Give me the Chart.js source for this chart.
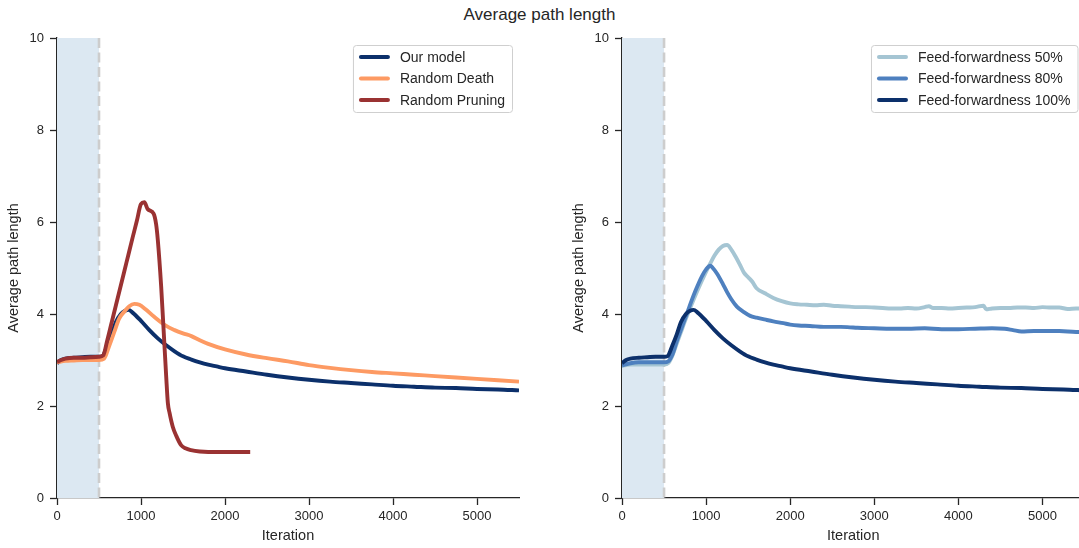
<!DOCTYPE html>
<html>
<head>
<meta charset="utf-8">
<script src="https://cdn.jsdelivr.net/npm/chart.js@4/dist/chart.umd.min.js"></script>
<style>
  html, body { margin: 0; padding: 0; background: #ffffff; overflow: hidden; width: 1079px; height: 548px; }
  #suptitle { position: absolute; left: 0; top: 4px; width: 1079px; text-align: center;
    font-family: "Liberation Sans", Arial, sans-serif; font-size: 17px; line-height: 22px; color: #262626; }
  #left { position: absolute; left: 0; top: 0; }
  #right { position: absolute; left: 540px; top: 0; }
</style>
</head>
<body>
<div id="suptitle">Average path length</div>
<canvas id="left" width="540" height="548"></canvas>
<canvas id="right" width="546" height="548"></canvas>
<script>
// ---- data: iteration vs. average path length ----
const xTicks = [0, 1000, 2000, 3000, 4000, 5000];
const yTicks = [0, 2, 4, 6, 8, 10];
const warmupEnd = 500;

// Our model (also the 100% feed-forwardness run)
const ourIter = [0, 50, 100, 200, 300, 400, 500, 540, 600, 650, 700, 760, 810, 850, 900, 1000, 1100, 1200, 1300, 1400, 1500, 1600, 1700, 1800, 1900, 2000, 2250, 2500, 2750, 3000, 3250, 3500, 3750, 4000, 4250, 4500, 4750, 5000, 5250, 5500];
const ourLen  = [2.93, 3.0, 3.03, 3.05, 3.06, 3.07, 3.07, 3.08, 3.32, 3.55, 3.82, 4.0, 4.07, 4.09, 4.03, 3.85, 3.65, 3.47, 3.32, 3.19, 3.08, 3.01, 2.95, 2.9, 2.86, 2.82, 2.75, 2.68, 2.62, 2.57, 2.53, 2.5, 2.47, 2.44, 2.42, 2.4, 2.39, 2.37, 2.36, 2.34];

// Random Death
const deathIter = [0, 100, 200, 300, 400, 500, 560, 620, 680, 740, 800, 860, 920, 980, 1050, 1150, 1300, 1400, 1500, 1600, 1700, 1800, 2000, 2250, 2500, 2750, 3000, 3250, 3500, 3750, 4000, 4250, 4500, 4750, 5000, 5250, 5500];
const deathLen  = [2.95, 2.98, 2.99, 3.0, 3.0, 3.0, 3.03, 3.3, 3.6, 3.9, 4.05, 4.17, 4.22, 4.2, 4.11, 3.95, 3.74, 3.65, 3.58, 3.52, 3.43, 3.35, 3.23, 3.12, 3.04, 2.97, 2.89, 2.83, 2.78, 2.74, 2.71, 2.68, 2.65, 2.62, 2.59, 2.56, 2.53];

// Random Pruning
const pruneIter = [0, 50, 100, 200, 300, 400, 500, 550, 600, 650, 700, 750, 800, 850, 900, 950, 1000, 1040, 1080, 1150, 1180, 1200, 1240, 1280, 1300, 1320, 1340, 1378, 1420, 1477, 1530, 1596, 1700, 1800, 2000, 2300];
const pruneLen  = [2.96, 3.0, 3.03, 3.05, 3.05, 3.06, 3.07, 3.1, 3.44, 3.81, 4.18, 4.55, 4.92, 5.29, 5.66, 6.02, 6.39, 6.43, 6.28, 6.18, 5.95, 5.61, 4.6, 3.29, 2.64, 2.06, 1.85, 1.55, 1.35, 1.15, 1.08, 1.04, 1.01, 1.0, 1.0, 1.0];

// Feed-forwardness 50%
const ff50Iter = [0, 100, 200, 300, 400, 500, 550, 600, 650, 700, 750, 800, 900, 1000, 1050, 1100, 1150, 1200, 1250, 1300, 1350, 1400, 1450, 1500, 1550, 1600, 1700, 1800, 1900, 2000, 2100, 2200, 2300, 2400, 2500, 2600, 2700, 2800, 2900, 3000, 3100, 3200, 3300, 3400, 3500, 3600, 3650, 3700, 3800, 3900, 4000, 4100, 4200, 4300, 4330, 4400, 4500, 4600, 4700, 4800, 4900, 5000, 5100, 5200, 5300, 5400, 5500];
const ff50Len  = [2.87, 2.9, 2.9, 2.9, 2.9, 2.9, 2.93, 3.1, 3.35, 3.6, 3.85, 4.08, 4.52, 4.92, 5.1, 5.27, 5.4, 5.48, 5.5, 5.4, 5.25, 5.08, 4.9, 4.8, 4.7, 4.56, 4.45, 4.35, 4.28, 4.23, 4.21, 4.2, 4.19, 4.2, 4.18, 4.17, 4.16, 4.15, 4.15, 4.14, 4.13, 4.12, 4.12, 4.13, 4.12, 4.15, 4.17, 4.13, 4.13, 4.12, 4.13, 4.14, 4.15, 4.18, 4.1, 4.12, 4.13, 4.13, 4.14, 4.14, 4.13, 4.15, 4.14, 4.14, 4.11, 4.12, 4.12];

// Feed-forwardness 80%
const ff80Iter = [0, 100, 200, 300, 400, 500, 550, 600, 650, 700, 750, 800, 850, 900, 950, 1000, 1050, 1080, 1129, 1200, 1248, 1300, 1366, 1450, 1524, 1600, 1722, 1800, 1920, 2000, 2100, 2236, 2400, 2600, 2711, 2800, 3000, 3200, 3400, 3600, 3800, 4000, 4200, 4400, 4550, 4650, 4750, 4900, 5000, 5200, 5400, 5500];
const ff80Len  = [2.88, 2.93, 2.95, 2.95, 2.95, 2.95, 2.97, 3.12, 3.4, 3.65, 3.9, 4.15, 4.4, 4.62, 4.82, 4.97, 5.05, 5.0, 4.88, 4.65, 4.48, 4.32, 4.16, 4.04, 3.96, 3.92, 3.87, 3.84, 3.8, 3.77, 3.75, 3.74, 3.72, 3.72, 3.71, 3.7, 3.69, 3.68, 3.68, 3.69, 3.67, 3.67, 3.68, 3.69, 3.68, 3.65, 3.62, 3.63, 3.63, 3.63, 3.61, 3.61];

// Feed-forwardness 100% is the same run as our model
const ff100Iter = ourIter;
const ff100Len = ourLen;

const TEXT = '#262626';
const FONT = '"Liberation Sans", Arial, Helvetica, sans-serif';

function pts(xs, ys) { return xs.map((x, i) => ({ x: x, y: ys[i] })); }

function series(label, xs, ys, color, order) {
  return {
    label: label, data: pts(xs, ys), borderColor: color, backgroundColor: color,
    borderWidth: 3.9, pointRadius: 0, fill: false, order: order,
    cubicInterpolationMode: 'monotone', borderJoinStyle: 'round', borderCapStyle: 'butt'
  };
}

// light band for the warm-up phase and a dashed marker at its end
const warmup = {
  id: 'warmup',
  beforeDatasetsDraw(chart) {
    const { ctx, chartArea, scales } = chart;
    const x0 = scales.x.getPixelForValue(0);
    const x1 = scales.x.getPixelForValue(warmupEnd);
    ctx.save();
    ctx.fillStyle = '#dce8f2';
    ctx.fillRect(x0, chartArea.top, x1 - x0, chartArea.bottom - chartArea.top);
    ctx.strokeStyle = '#cdcdcd';
    ctx.lineWidth = 2.6;
    ctx.setLineDash([10, 4.5]);
    ctx.beginPath();
    ctx.moveTo(x1, chartArea.top);
    ctx.lineTo(x1, chartArea.bottom);
    ctx.stroke();
    ctx.restore();
  }
};

// boxed legend in the upper-right corner of the plot area
const cornerLegend = {
  id: 'cornerLegend',
  afterDraw(chart) {
    const { ctx, chartArea } = chart;
    const items = chart.data.datasets;
    ctx.save();
    ctx.font = '14px ' + FONT;
    const textW = Math.max.apply(null, items.map(d => ctx.measureText(d.label).width));
    const padL = 6, handle = 31, gap = 10, padR = 7, rowH = 21.5, padV = 12;
    const w = padL + handle + gap + textW + padR;
    const h = padV * 2 + rowH * (items.length - 1);
    const right = chartArea.right - 7;
    const top = chartArea.top + 7;
    const left = right - w;
    ctx.beginPath();
    ctx.roundRect(left + 0.5, top + 0.5, w, h, 3);
    ctx.fillStyle = 'rgba(255,255,255,0.85)';
    ctx.fill();
    ctx.strokeStyle = '#cfcfcf';
    ctx.lineWidth = 1;
    ctx.stroke();
    ctx.textBaseline = 'middle';
    items.forEach((d, i) => {
      const cy = top + padV + i * rowH;
      ctx.strokeStyle = d.borderColor;
      ctx.lineWidth = 4;
      ctx.lineCap = 'round';
      ctx.beginPath();
      ctx.moveTo(left + padL + 2, cy);
      ctx.lineTo(left + padL + handle - 2, cy);
      ctx.stroke();
      ctx.fillStyle = TEXT;
      ctx.fillText(d.label, left + padL + handle + gap, cy + 1);
    });
    ctx.restore();
  }
};

function makeChart(canvasId, datasets, padLeft, padRight) {
  return new Chart(document.getElementById(canvasId), {
    type: 'line',
    data: { datasets: datasets },
    options: {
      responsive: false, animation: false, devicePixelRatio: 1,
      layout: { padding: { left: padLeft, right: padRight, top: 38, bottom: 0 } },
      plugins: { legend: { display: false }, tooltip: { enabled: false }, title: { display: false } },
      scales: {
        x: {
          type: 'linear', min: 0, max: 5500,
          afterBuildTicks(scale) { scale.ticks = xTicks.map(v => ({ value: v })); },
          afterFit(scale) { scale.height = 50; },
          border: { display: true, color: TEXT, width: 1.3 },
          grid: { display: true, drawOnChartArea: false, drawTicks: true, tickLength: 7, tickColor: TEXT, tickWidth: 1.3 },
          ticks: { color: TEXT, font: { family: FONT, size: 13 }, padding: 4, maxRotation: 0, callback: v => String(v) },
          title: { display: true, text: 'Iteration', color: TEXT, font: { family: FONT, size: 14.5 }, padding: { top: 0, bottom: 3 } }
        },
        y: {
          type: 'linear', min: 0, max: 10,
          afterBuildTicks(scale) { scale.ticks = yTicks.map(v => ({ value: v })); },
          afterFit(scale) { scale.width = 56; },
          border: { display: true, color: TEXT, width: 1.3 },
          grid: { display: true, drawOnChartArea: false, drawTicks: true, tickLength: 7, tickColor: TEXT, tickWidth: 1.3 },
          ticks: { color: TEXT, font: { family: FONT, size: 13 }, padding: 6, callback: v => String(v) },
          title: { display: true, text: 'Average path length', color: TEXT, font: { family: FONT, size: 14.5 }, padding: { top: 4, bottom: 4 } }
        }
      }
    },
    plugins: [warmup, cornerLegend]
  });
}

makeChart('left', [
  series('Our model', ourIter, ourLen, '#0c306b', 3),
  series('Random Death', deathIter, deathLen, '#fd9a63', 2),
  series('Random Pruning', pruneIter, pruneLen, '#9a3232', 1)
], 1, 21);

makeChart('right', [
  series('Feed-forwardness 50%', ff50Iter, ff50Len, '#a5c5d3', 3),
  series('Feed-forwardness 80%', ff80Iter, ff80Len, '#4e80bf', 2),
  series('Feed-forwardness 100%', ff100Iter, ff100Len, '#0c306b', 1)
], 26, 1.5);
</script>
</body>
</html>
